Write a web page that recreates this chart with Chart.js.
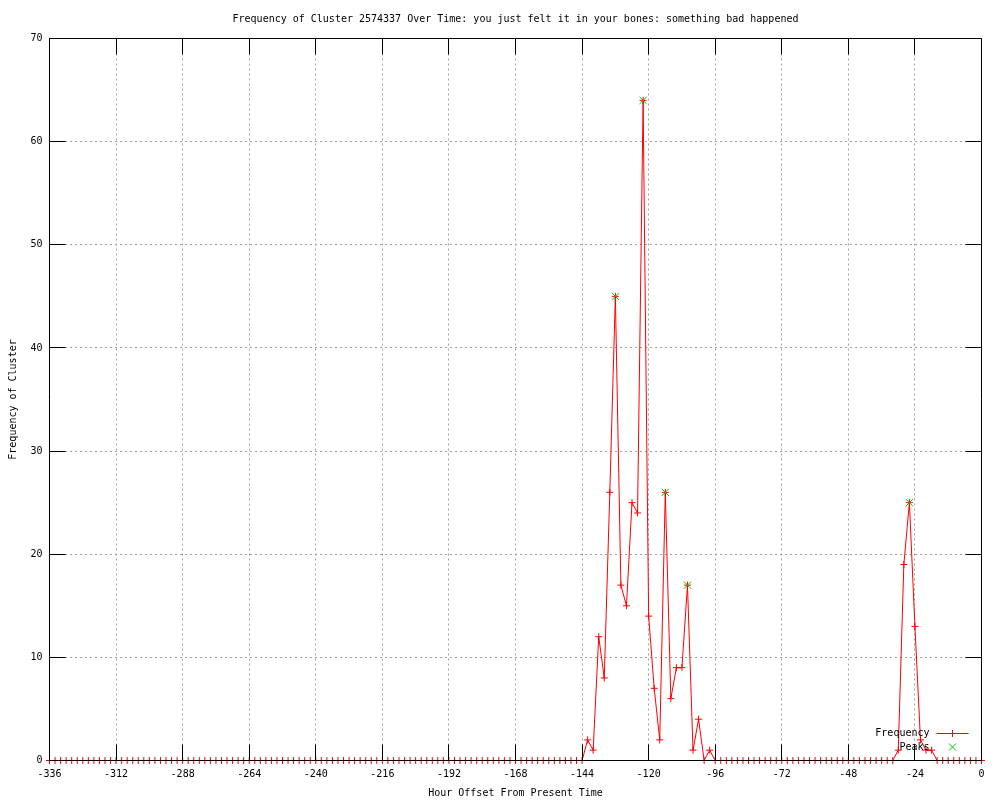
<!DOCTYPE html>
<html>
<head>
<meta charset="utf-8">
<title>Frequency of Cluster 2574337</title>
<script src="https://cdn.jsdelivr.net/npm/chart.js@4.4.1/dist/chart.umd.min.js"></script>
<style>
  html, body { margin: 0; padding: 0; background: #fff; }
  canvas { display: block; }
</style>
</head>
<body>
<canvas id="clusterChart" width="1000" height="800"></canvas>
<script>
// hours relative to now, one sample every 2 hours
const hours = [
  -336, -334, -332, -330, -328, -326, -324, -322, -320, -318, -316, -314,
  -312, -310, -308, -306, -304, -302, -300, -298, -296, -294, -292, -290,
  -288, -286, -284, -282, -280, -278, -276, -274, -272, -270, -268, -266,
  -264, -262, -260, -258, -256, -254, -252, -250, -248, -246, -244, -242,
  -240, -238, -236, -234, -232, -230, -228, -226, -224, -222, -220, -218,
  -216, -214, -212, -210, -208, -206, -204, -202, -200, -198, -196, -194,
  -192, -190, -188, -186, -184, -182, -180, -178, -176, -174, -172, -170,
  -168, -166, -164, -162, -160, -158, -156, -154, -152, -150, -148, -146,
  -144, -142, -140, -138, -136, -134, -132, -130, -128, -126, -124, -122,
  -120, -118, -116, -114, -112, -110, -108, -106, -104, -102, -100, -98,
  -96, -94, -92, -90, -88, -86, -84, -82, -80, -78, -76, -74,
  -72, -70, -68, -66, -64, -62, -60, -58, -56, -54, -52, -50,
  -48, -46, -44, -42, -40, -38, -36, -34, -32, -30, -28, -26,
  -24, -22, -20, -18, -16, -14, -12, -10, -8, -6, -4, -2,
  0
];

const frequency = [
  0, 0, 0, 0, 0, 0, 0, 0, 0, 0, 0, 0,
  0, 0, 0, 0, 0, 0, 0, 0, 0, 0, 0, 0,
  0, 0, 0, 0, 0, 0, 0, 0, 0, 0, 0, 0,
  0, 0, 0, 0, 0, 0, 0, 0, 0, 0, 0, 0,
  0, 0, 0, 0, 0, 0, 0, 0, 0, 0, 0, 0,
  0, 0, 0, 0, 0, 0, 0, 0, 0, 0, 0, 0,
  0, 0, 0, 0, 0, 0, 0, 0, 0, 0, 0, 0,
  0, 0, 0, 0, 0, 0, 0, 0, 0, 0, 0, 0,
  0, 2, 1, 12, 8, 26, 45, 17, 15, 25, 24, 64,
  14, 7, 2, 26, 6, 9, 9, 17, 1, 4, 0, 1,
  0, 0, 0, 0, 0, 0, 0, 0, 0, 0, 0, 0,
  0, 0, 0, 0, 0, 0, 0, 0, 0, 0, 0, 0,
  0, 0, 0, 0, 0, 0, 0, 0, 0, 1, 19, 25,
  13, 2, 1, 1, 0, 0, 0, 0, 0, 0, 0, 0,
  0
];

const peakHours = [-132, -122, -114, -106, -26];
const peakValues = [45, 64, 26, 17, 25];

const xTickValues = [-336, -312, -288, -264, -240, -216, -192, -168, -144, -120, -96, -72, -48, -24, 0];
const yTickValues = [0, 10, 20, 30, 40, 50, 60, 70];

const FONT = "'DejaVu Sans Mono', 'Liberation Mono', monospace";
const RED = '#ff0000';
const GREEN = '#00c000';

Chart.defaults.font.family = FONT;
Chart.defaults.font.size = 10;
Chart.defaults.color = '#000';

// same rounding chart.js uses for 1px grid lines
const px = v => Math.round(v - 0.5) + 0.5;

// white page under everything
const background = {
  id: 'background',
  beforeDraw(chart) {
    const { ctx, width, height } = chart;
    ctx.save();
    ctx.fillStyle = '#fff';
    ctx.fillRect(0, 0, width, height);
    ctx.restore();
  }
};

// gnuplot style box with tics pointing inwards on all four sides
const frame = {
  id: 'frame',
  afterDatasetsDraw(chart) {
    const { ctx, chartArea: a, scales: { x, y } } = chart;
    const L = px(a.left), R = px(a.right), T = px(a.top), B = px(a.bottom);
    const tic = 16;
    ctx.save();
    ctx.strokeStyle = '#000';
    ctx.lineWidth = 1;
    ctx.beginPath();
    ctx.rect(L, T, R - L, B - T);
    xTickValues.forEach(v => {
      const xp = px(x.getPixelForValue(v));
      ctx.moveTo(xp, B); ctx.lineTo(xp, B - tic);
      ctx.moveTo(xp, T); ctx.lineTo(xp, T + tic);
    });
    yTickValues.forEach(v => {
      const yp = px(y.getPixelForValue(v));
      ctx.moveTo(L, yp); ctx.lineTo(L + tic, yp);
      ctx.moveTo(R, yp); ctx.lineTo(R - tic, yp);
    });
    ctx.stroke();
    ctx.restore();
  }
};

// key in the lower right corner, text left of the sample
const key = {
  id: 'key',
  afterDraw(chart) {
    const { ctx, chartArea: a } = chart;
    const textRight = a.right - 52;
    const x1 = a.right - 45, x2 = a.right - 13, xm = a.right - 29;
    const y1 = px(a.bottom - 27), y2 = a.bottom - 13.5;
    ctx.save();
    ctx.font = '10px ' + FONT;
    ctx.fillStyle = '#000';
    ctx.textAlign = 'right';
    ctx.textBaseline = 'middle';
    ctx.fillText('Frequency', textRight, y1);
    ctx.fillText('Peaks', textRight, y2);
    ctx.lineWidth = 1;
    ctx.strokeStyle = RED;
    ctx.beginPath();
    ctx.moveTo(x1, y1); ctx.lineTo(x2, y1);
    ctx.moveTo(px(xm), y1 - 3.5); ctx.lineTo(px(xm), y1 + 3.5);
    ctx.stroke();
    ctx.strokeStyle = GREEN;
    ctx.beginPath();
    ctx.moveTo(xm - 3.5, y2 - 3.5); ctx.lineTo(xm + 3.5, y2 + 3.5);
    ctx.moveTo(xm - 3.5, y2 + 3.5); ctx.lineTo(xm + 3.5, y2 - 3.5);
    ctx.stroke();
    ctx.restore();
  }
};

const freqPoints = hours.map((h, i) => ({ x: h, y: frequency[i] }));
const peakPoints = peakHours.map((h, i) => ({ x: h, y: peakValues[i] }));

new Chart(document.getElementById('clusterChart').getContext('2d'), {
  type: 'line',
  data: {
    datasets: [
      {
        label: 'Peaks',
        data: peakPoints,
        order: 0,
        showLine: false,
        pointStyle: 'crossRot',
        pointRadius: 5,
        pointBorderWidth: 1,
        pointBorderColor: GREEN,
        pointBackgroundColor: GREEN,
        clip: false
      },
      {
        label: 'Frequency',
        data: freqPoints,
        order: 1,
        borderColor: RED,
        borderWidth: 1,
        tension: 0,
        fill: false,
        pointStyle: 'cross',
        pointRadius: 3.5,
        pointBorderWidth: 1,
        pointBorderColor: RED,
        pointBackgroundColor: RED,
        clip: false
      }
    ]
  },
  options: {
    responsive: false,
    animation: false,
    devicePixelRatio: 1,
    events: [],
    layout: { padding: { top: 0, right: 18.5, bottom: 0, left: 0 } },
    plugins: {
      legend: { display: false },
      tooltip: { enabled: false },
      title: {
        display: true,
        fullSize: false,
        text: 'Frequency of Cluster 2574337 Over Time: you just felt it in your bones: something bad happened',
        font: { family: FONT, size: 10, weight: 'normal' },
        color: '#000',
        padding: { top: 13, bottom: 13.5 }
      }
    },
    scales: {
      x: {
        type: 'linear',
        min: -336,
        max: 0,
        afterBuildTicks: s => { s.ticks = xTickValues.map(v => ({ value: v })); },
        afterFit: s => { s.height = 39.5; },
        ticks: { padding: 8, maxRotation: 0, autoSkip: false, font: { size: 10 } },
        grid: { color: '#a0a0a0', lineWidth: 1, drawTicks: false },
        border: { display: false, dash: [2, 3] },
        title: {
          display: true,
          text: 'Hour Offset From Present Time',
          font: { size: 10 },
          padding: { top: 0, bottom: 1 }
        }
      },
      y: {
        type: 'linear',
        min: 0,
        max: 70,
        afterBuildTicks: s => { s.ticks = yTickValues.map(v => ({ value: v })); },
        afterFit: s => { s.width = 49.5; },
        ticks: { padding: 7, font: { size: 10 } },
        grid: { color: '#a0a0a0', lineWidth: 1, drawTicks: false },
        border: { display: false, dash: [2, 3] },
        title: {
          display: true,
          text: 'Frequency of Cluster',
          font: { size: 10 },
          padding: { top: 7, bottom: 0 }
        }
      }
    }
  },
  plugins: [background, frame, key]
});
</script>
</body>
</html>
